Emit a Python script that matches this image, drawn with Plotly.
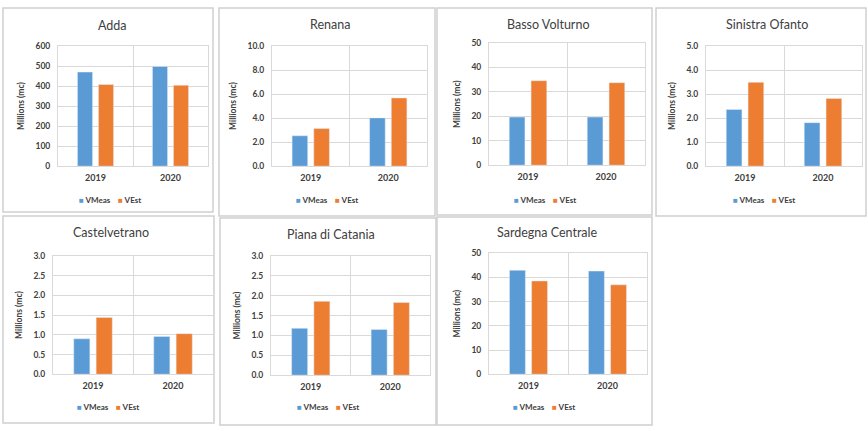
import plotly.graph_objects as go

W, H = 868, 431

# ---------------- data ----------------
categories = ["2019", "2020"]
series_names = ["VMeas", "VEst"]
panel_titles = ["Adda", "Renana", "Basso Volturno", "Sinistra Ofanto",
                "Castelvetrano", "Piana di Catania", "Sardegna Centrale"]
vmeas = [[470, 498], [2.53, 4.02], [19.7, 19.7], [2.36, 1.81],
         [0.90, 0.96], [1.18, 1.15], [42.9, 42.6]]
vest = [[408, 404], [3.13, 5.68], [34.6, 33.8], [3.49, 2.82],
        [1.44, 1.03], [1.86, 1.83], [38.5, 36.9]]
y_max = [600, 10, 50, 5, 3, 3, 50]
y_dtick = [100, 2, 10, 1, 0.5, 0.5, 10]
y_format = ["d", ".1f", "d", ".1f", ".1f", ".1f", "d"]
y_title = "Millions (mc)"

# ---------------- layout (pixels) ----------------
# plot areas: x0, x1, y0(top), y1(bottom)
plot_px = [(58, 208, 42, 165), (272, 427, 42, 165), (489, 645, 39, 164),
           (706, 862, 42, 165), (53, 213, 257, 378), (271, 430, 257, 379),
           (489, 647, 254, 378)]
# panel boxes: x0, x1, y0, y1
box_px = [(3, 213, 3, 212), (219, 435, 3, 216), (437, 652, 3, 215),
          (656, 866, 3, 216), (3, 214, 216, 428), (220, 436, 218, 430),
          (437, 652, 217, 430)]
title_cx = [113, 330, 548, 767, 111, 331, 547]
title_y = [21, 20, 20, 20, 233, 235, 233]
legend_y = [200, 200, 200, 200, 412, 412, 412]

BLUE = "#5B9BD5"
ORANGE = "#ED7D31"
TXT = "#404040"
GRID = "#D9D9D9"
FONT = "Lato"

def px_x(v):
    return v / W

def px_y(v):
    return 1 - v / H

fig = go.Figure()
annotations = []
shapes = []
layout_axes = {}

for i in range(7):
    n = "" if i == 0 else str(i + 1)
    xa, ya = "x" + n, "y" + n
    fig.add_trace(go.Bar(x=categories, y=vmeas[i], name=series_names[0],
                         marker_color=BLUE, xaxis=xa, yaxis=ya,
                         showlegend=False))
    fig.add_trace(go.Bar(x=categories, y=vest[i], name=series_names[1],
                         marker_color=ORANGE, xaxis=xa, yaxis=ya,
                         showlegend=False))
    x0, x1, y0, y1 = plot_px[i]
    layout_axes["xaxis" + n] = dict(
        domain=[px_x(x0), px_x(x1)], anchor=ya, type="category",
        tickson="boundaries", showgrid=True, gridcolor=GRID, gridwidth=1,
        showline=True, linecolor=GRID, linewidth=1, mirror=True,
        ticks="", ticklabelstandoff=3,
        tickfont=dict(family=FONT, size=9, color=TXT, weight="bold"),
        fixedrange=True)
    layout_axes["yaxis" + n] = dict(
        domain=[px_y(y1), px_y(y0)], anchor=xa, range=[0, y_max[i]],
        dtick=y_dtick[i], tick0=0, tickformat=y_format[i],
        showgrid=True, gridcolor=GRID, gridwidth=1, zeroline=False,
        showline=True, linecolor=GRID, linewidth=1, mirror=True,
        ticks="", ticklabelstandoff=5,
        tickfont=dict(family=FONT, size=8.5, color=TXT, weight="bold"),
        title=dict(text=y_title, standoff=9,
                   font=dict(family=FONT, size=8.5, color=TXT, weight="bold")),
        fixedrange=True)
    bx0, bx1, by0, by1 = box_px[i]
    shapes.append(dict(type="rect", xref="paper", yref="paper",
                       x0=px_x(bx0), x1=px_x(bx1), y0=px_y(by1), y1=px_y(by0),
                       line=dict(color="#CFCFCF", width=1.5), layer="below"))
    annotations.append(dict(text=panel_titles[i], xref="paper", yref="paper",
                            x=px_x(title_cx[i]), y=px_y(title_y[i]),
                            xanchor="center", yanchor="middle", showarrow=False,
                            font=dict(family=FONT, size=12.5, color=TXT)))
    leg = ("<span style='color:%s'>■</span> %s    "
           "<span style='color:%s'>■</span> %s") % (BLUE, series_names[0],
                                                     ORANGE, series_names[1])
    annotations.append(dict(text=leg, xref="paper", yref="paper",
                            x=px_x(title_cx[i] - 3), y=px_y(legend_y[i]),
                            xanchor="center", yanchor="middle", showarrow=False,
                            font=dict(family=FONT, size=8, color=TXT,
                                      weight="bold")))

fig.update_layout(
    width=W, height=H, margin=dict(l=0, r=0, t=0, b=0),
    paper_bgcolor="white", plot_bgcolor="white",
    barmode="group", bargap=0.44, bargroupgap=0.28,
    annotations=annotations, shapes=shapes,
    **layout_axes)

fig.write_html("out.html",
               config={"displayModeBar": False},
               post_script="document.body.style.margin='0';"
                           "document.body.style.overflow='hidden';")
